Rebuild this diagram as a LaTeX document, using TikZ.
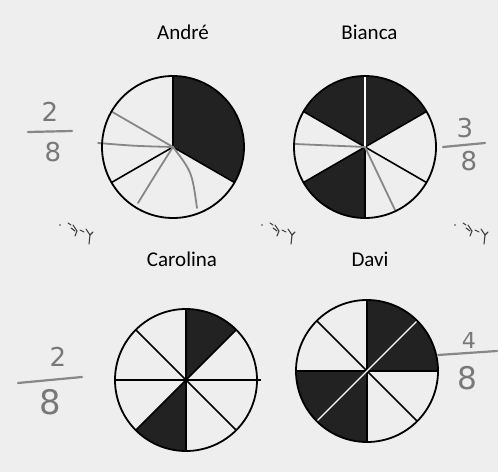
\documentclass[tikz,border=0pt]{standalone}
\usepackage{fontspec}
\setmainfont{Carlito}
\newfontfamily\handfont{DejaVu Sans}
\definecolor{scanbg}{RGB}{238,238,238}
\definecolor{darkfill}{RGB}{34,34,34}
\definecolor{pencil}{RGB}{135,135,135}
\definecolor{pencilink}{RGB}{120,120,120}
\begin{document}
\begin{tikzpicture}[x=1pt,y=1pt,
  pie/.style={circle,minimum size=142pt,inner sep=0pt,outer sep=0pt},
  rim/.style={draw=black,line width=1.8pt},
  spoke/.style={draw=black,line width=1.6pt},
  whitesplit/.style={draw=white,line width=1.1pt},
  pencilline/.style={draw=pencil,line width=1.8pt,line cap=round},
  sector/.style={fill=darkfill},
  title/.style={anchor=base,font=\fontsize{21}{24}\selectfont},
  digit/.style={text=pencilink,font=\handfont\fontsize{26}{26}\selectfont,inner sep=0pt},
  fracbar/.style={draw=pencil,line width=2.2pt,line cap=round},
  scribstroke/.style={draw=black!75,line width=1.1pt,line cap=round},
  scrib/.pic={
    \fill[black!75] (0,-3) circle[radius=0.9pt];
    \draw[scribstroke] (8,-1)--(11,-3);
    \draw[scribstroke] (13,-3)--(17,-9)--(15,-14);
    \draw[scribstroke] (11,-6)--(15,-9);
    \draw[scribstroke] (20,-8)--(24,-10);
    \draw[scribstroke] (26,-7)--(30,-13)--(33,-10);
    \draw[scribstroke] (30,-13)--(29,-22);
  }]
\def\R{71pt}
\useasboundingbox (0,0) rectangle (498,472);
\fill[scanbg] (0,0) rectangle (498,472);

% ---------- titles ----------
\node[title] (tA) at (183,432) {André};
\node[title] (tB) at (369.5,432) {Bianca};
\node[title] (tC) at (182,206) {Carolina};
\node[title] (tD) at (370,206) {Davi};

% ---------- André ----------
\node[pie] (Ac) at (173,325) {};
\fill[sector] (Ac.center) -- (Ac.90) arc[start angle=90,end angle=-30,radius=\R] -- cycle;
\draw[spoke] (Ac.center) -- (Ac.90);
\draw[spoke] (Ac.center) -- (Ac.-30);
\draw[spoke] (Ac.center) -- (Ac.210);
\coordinate (Ah) at (98,329);
\coordinate (Al) at (138,269);
\coordinate (Ar) at (197,264);
\draw[pencilline] (Ac.center) -- (Ac.150);
\draw[pencilline] (Ac.center) .. controls (135,326) .. (Ah);
\draw[pencilline] (Ac.center) .. controls (157,300) .. (Al);
\draw[pencilline] (Ac.center) .. controls (192,300) .. (Ar);
\draw[rim] (Ac.center) circle[radius=\R];

% ---------- Bianca ----------
\node[pie] (Bc) at (365,325) {};
\fill[sector] (Bc.center) -- (Bc.30) arc[start angle=30,end angle=150,radius=\R] -- cycle;
\fill[sector] (Bc.center) -- (Bc.210) arc[start angle=210,end angle=270,radius=\R] -- cycle;
\draw[spoke] (Bc.center) -- (Bc.30);
\draw[spoke] (Bc.center) -- (Bc.150);
\draw[spoke] (Bc.center) -- (Bc.210);
\draw[spoke] (Bc.center) -- (Bc.270);
\draw[spoke] (Bc.center) -- (Bc.330);
\draw[whitesplit] (Bc.center) -- (Bc.90);
\coordinate (Bh) at (295,328);
\coordinate (Bl) at (395,262);
\draw[pencilline] (Bc.center) -- (Bh);
\draw[pencilline] (Bc.center) -- (Bl);
\draw[rim] (Bc.center) circle[radius=\R];

% ---------- Carolina ----------
\node[pie] (Cc) at (186,92) {};
\fill[sector] (Cc.center) -- (Cc.45) arc[start angle=45,end angle=90,radius=\R] -- cycle;
\fill[sector] (Cc.center) -- (Cc.225) arc[start angle=225,end angle=270,radius=\R] -- cycle;
\coordinate (Ce) at ([xshift=4pt]Cc.0);
\draw[spoke] (Cc.180) -- (Ce);
\draw[spoke] (Cc.90) -- (Cc.270);
\draw[spoke] (Cc.45) -- (Cc.225);
\draw[spoke] (Cc.135) -- (Cc.315);
\draw[rim] (Cc.center) circle[radius=\R];

% ---------- Davi ----------
\node[pie] (Dc) at (367,101) {};
\fill[sector] (Dc.center) -- (Dc.0) arc[start angle=0,end angle=90,radius=\R] -- cycle;
\fill[sector] (Dc.center) -- (Dc.180) arc[start angle=180,end angle=270,radius=\R] -- cycle;
\draw[spoke] (Dc.180) -- (Dc.0);
\draw[spoke] (Dc.90) -- (Dc.270);
\draw[spoke] (Dc.135) -- (Dc.315);
\draw[whitesplit] (Dc.45) -- (Dc.225);
\draw[rim] (Dc.center) circle[radius=\R];

% ---------- handwritten fractions ----------
\node[digit] (fAn) at (50,360) {2};
\node[digit] (fAd) at (53,320) {8};
\coordinate (fAb1) at (28,340);
\coordinate (fAb2) at (72,341);
\draw[fracbar] (fAb1) -- (fAb2);

\node[digit] (fBn) at (465,344) {3};
\node[digit] (fBd) at (469,311) {8};
\coordinate (fBb1) at (443,325);
\coordinate (fBb2) at (485,329);
\draw[fracbar] (fBb1) -- (fBb2);

\node[digit] (fCn) at (58,115) {2};
\node[digit,scale=1.3] (fCd) at (50,70) {8};
\coordinate (fCb1) at (18,89);
\coordinate (fCb2) at (82,95);
\draw[fracbar] (fCb1) -- (fCb2);

\node[digit,scale=0.85] (fDn) at (469,132) {4};
\node[digit,scale=1.2] (fDd) at (467,94) {8};
\coordinate (fDb1) at (438,117);
\coordinate (fDb2) at (497,121);
\draw[fracbar] (fDb1) -- (fDb2);

% ---------- scan marks ----------
\pic at (60,250) {scrib};
\pic at (262,250) {scrib};
\pic at (455,250) {scrib};
\end{tikzpicture}
\end{document}
